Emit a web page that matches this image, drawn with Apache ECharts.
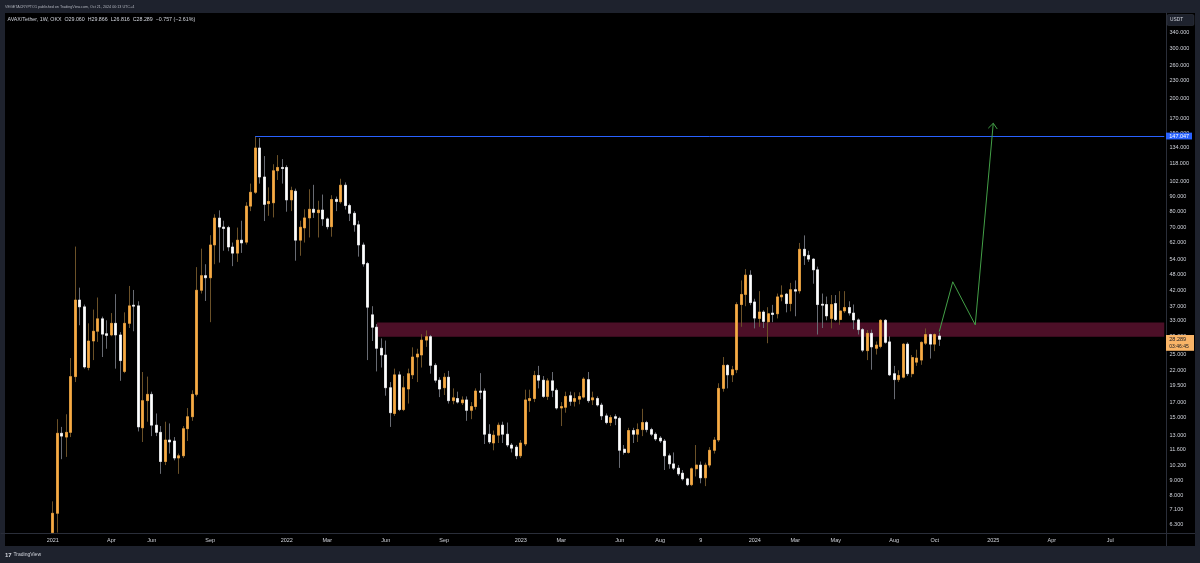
<!DOCTYPE html>
<html>
<head>
<meta charset="utf-8">
<script src="https://cdn.jsdelivr.net/npm/echarts@6/dist/echarts.min.js"></script>
<style>
html,body{margin:0;padding:0;background:#1e222d;}
#c{width:1200px;height:563px;}
</style>
</head>
<body>
<div id="c"></div>
<script>
// ---- AVAX/USDT weekly candles, week of 2021-01-04 (index 0) to week of 2024-10-14 ----
// (the first candles run below the visible price range; their hidden ends are read at the pane edge)
const open = [
5.9,6.9,13.2,12.8,13.3,20.9,38.9,36.8,22.5,27.9,
30.2,33.4,29.6,29.3,32.2,29.3,21.8,32.2,37.3,37.1,
13.8,17.2,18.1,14.1,13.3,10.5,12.5,12.4,10.8,11,
13.7,15.1,18.1,42.1,47.4,46.6,60.8,75.6,70.3,70,
59.8,56.9,63.2,62.2,83.3,93.2,133.5,105.5,85,85.6,
111,114,114,87.6,94,63.2,69.8,75.7,81.2,79,
80.7,75.1,70.5,88,86.3,98.7,83.7,78.6,71.6,60.8,
52.3,34.5,31.2,26.3,24.9,19.1,15.5,21.2,16,18.9,
21.2,24.5,24.9,28.1,28.9,22.9,20.3,19.1,20.8,17.2,
17.5,16.9,17.3,15.9,16.4,18.6,18.6,13.1,12.2,13,
14.1,13.1,12,11.8,11,12.1,17.2,17.5,21.1,20.3,
17.8,20.2,18.7,16.2,16.3,17.9,17.1,17.4,17.7,20.4,
17.3,17.5,16.6,15.2,14.4,15.1,14.9,11.6,11.3,13.5,
13.1,13.6,14.4,13.6,13.1,12.7,12.4,11,10.3,9.95,
9.55,9.12,8.7,9.9,10.2,9.2,10.2,11.5,12.5,19,
22.9,21.2,22.1,37.5,40.7,47.6,38.3,33.5,35.3,32.6,
35,34.8,39.9,40.8,37.8,42.3,41.9,58.7,55.9,54.2,
49.7,37.6,37.5,33.5,37.8,33.2,35.6,36.6,35,33.1,
30.6,25.8,29.7,26.3,26.7,33,27.7,21.4,20.4,20.8,
27.2,21.4,23.5,23.9,27.4,29.4,27.2,29.06
];
const high = [
7.6,14.8,13.9,15.4,24.3,60,43,37.5,32.2,36,
39.7,34,33,35,40.8,30,35.2,43.6,42.2,38.5,
21.7,20.9,18.5,15.5,14,14.5,14.3,12.8,11.2,14,
16.2,18.7,50.8,59,52,65.8,78,80.5,74,71,
62,70,74,86,100,147.047,144.7,125,97,117,
126,122,116,97.5,96,74,81.2,95.5,99,87,
91.5,76,91,90,104,101,85,80,74,62,
53,37,32,28.5,28,20,22.3,21.8,21,22.3,
26.5,26.2,29.5,30.4,29.3,23.3,20.8,21.5,21.9,19,
18.5,17.8,17.8,17,19,21.5,19,14.2,13.5,14.4,
14.5,14.4,12.2,12,12.5,18.8,18.8,21.9,22.8,21,
20.6,21.7,19,17,18.5,18.5,18.4,18.4,20.8,21.7,
18.5,17.8,16.9,15.5,15.3,15.4,15.1,12,13.8,13.8,
14.3,16.1,14.6,13.8,13.3,12.9,12.6,11.2,11.3,10.2,
9.8,9.2,10,12,10.5,10.4,11.8,12.8,19.8,24.5,
23.1,22.8,38.2,45.6,50,49.5,39.3,41.8,35.8,36.7,
37.4,41,43.8,41.2,44.7,45.6,61.8,65.7,58,54.6,
51,41,40,40.5,40.5,41.8,41.8,38.5,37.5,33.5,
31,30.5,30.6,27.8,33.3,33.3,29,22.8,22,27.4,
27.6,24.9,26,27.8,30.9,29.6,29.7,29.866
];
const low = [
5.9,5.9,10.7,10.9,12.8,20,31.7,22.3,22,23.9,
27.7,24.5,26.2,29,22.3,20.2,21.5,31,30.2,13.4,
12.3,14.5,12.9,12.9,9.5,10.2,11.2,10.6,9.5,10.8,
12.4,14.6,17.8,41,38.6,32.5,52,52.7,58,57.8,
51.2,53,57,61,80,92,100,73.8,77,76,
103,100,79.6,80,53.5,55.7,62,64.6,75.7,64.6,
71,69,65,80,85,81,73.8,67.7,55.3,51,
23.9,27.9,21.8,22.5,17.9,13.9,15.2,15.8,15.8,16.8,
20.5,20,22.5,26.6,21.4,19.9,17.7,18,16.8,16.7,
16.8,16.6,14.6,14.8,16,17.4,12.1,12.1,11.5,12.2,
12.2,11.8,11.3,10.7,10.8,11.9,15.7,17,19,17.6,
17.3,17.7,16,14,15.6,16.5,16.4,16.7,17.5,16.9,
16.6,16.4,14.7,14.2,14,14.1,9.97,11.1,11.2,12.2,
12.3,12.9,13.3,12.9,12.4,12.2,9.8,9.9,9.8,9.35,
9.0,8.6,8.6,9.3,8.8,8.6,10,11.2,12.3,18.5,
19,20,21.5,31.3,37,37.3,30.9,31.3,31,27.4,
32.5,33.5,38.5,35.2,35.5,34.1,41,51.7,53,44.4,
29.4,31,33,30.9,32.8,31.8,35,34.3,30.7,29.4,
25.5,23.9,22.1,25,26.3,27.3,21,17.4,20,20.6,
21,20.8,22.8,23,27,24.2,25.7,26.816
];
const close = [
6.9,13.2,12.9,13.3,20.9,38.9,36.8,22.6,27.9,30.2,
33.4,29.5,29.2,32.2,29.3,23.8,32.2,37.1,37,13.9,
17.2,18.1,14.1,13.3,10.5,12.5,12.3,10.8,11.0,13.7,
15.1,18.1,42.1,47.4,46.6,60.8,75.6,70.3,69.5,59.8,
56.9,63.2,61.8,83.3,93.2,133.5,105.5,84.5,86.5,111,
114,113,87.6,94.6,63.2,70.2,75.7,81.2,79.2,80.7,
75.1,70.5,87.9,86.5,98.7,83.7,78.6,71.6,60.8,52.1,
36.7,31.2,26.3,24.9,19.1,15.6,21.2,16,19.1,21.4,
24.5,25.1,28.1,28.9,22.9,20.3,18.9,20.8,17.2,17.6,
17,17.3,15.9,16.4,18.6,18.4,13.1,12.3,13,14.1,
13.1,12,11.7,11,12.2,17.3,17.5,21.1,20.3,17.8,
20.2,18.7,16.2,16.4,17.8,17.1,17.5,17.8,20.5,17.2,
17.6,16.6,15.2,14.4,15,14.9,11.5,11.3,13.5,13.1,
13.6,14.4,13.6,13.1,12.6,12.4,11,10.3,9.95,9.5,
9.12,8.7,9.9,10.2,9.2,10.2,11.5,12.5,19,22.9,
21.2,22.1,37.5,40.7,47.6,38.1,33.6,35.3,32.7,34.8,
34.6,39.9,40.5,37.8,42.3,41.8,58.7,55.7,54.2,49.7,
37.5,37.3,34.2,37.5,33.2,35.6,36.6,35,33.1,30.6,
25.9,29.7,26.6,27,33,27.6,21.2,20.4,21.1,27.2,
21.4,24.4,24.3,27.6,29.4,27.2,29.4,28.289
];

// weeks shown before the first candle and after the last one
const padBefore = 11;
const padAfter = 50;

// time-axis labels (week start date -> text)
const xTickLabels = [
['2021-01-04','2021'],['2021-04-05','Apr'],['2021-06-07','Jun'],['2021-09-06','Sep'],
['2022-01-03','2022'],['2022-03-07','Mar'],['2022-06-06','Jun'],['2022-09-05','Sep'],
['2023-01-02','2023'],['2023-03-06','Mar'],['2023-06-05','Jun'],['2023-08-07','Aug'],
['2023-10-09','9'],['2024-01-01','2024'],['2024-03-04','Mar'],['2024-05-06','May'],
['2024-08-05','Aug'],['2024-10-07','Oct'],['2025-01-06','2025'],['2025-04-07','Apr'],
['2025-07-07','Jul']
];
// price-axis labels
const yTickValues = [6.3,7.1,8,9,10.2,11.6,13,15,17,19.5,22,25,29,33,37,42,48,54,62,70,80,90,102,118,134,150,170,200,230,260,300,340];

// annotations
const zoneTop = 32.4, zoneBottom = 28.9, zoneStartWeek = 72;
const athWeek = 45, athLevel = 147.047;
const projection = [[197,30.1],[200,45.1],[205,31.8],[209,163.1]];
const lastPrice = 28.289, countdown = '03:46:45';

// ---- build ----
const WEEK = 7*24*3600*1000;
const startMs = Date.UTC(2021,0,4) - padBefore*WEEK;
const categories = [];
for (let n = 0; n < padBefore + open.length + padAfter; n++) {
  categories.push(new Date(startMs + n*WEEK).toISOString().slice(0,10));
}
const cat = i => categories[i + padBefore];
const tickMap = {};
xTickLabels.forEach(([d,t]) => { tickMap[d] = t; });

const blank = Array.from({length: padBefore}, () => ['-','-','-','-']);
const fullCandles = blank.concat(open.map((o,i) => [o, close[i], low[i], high[i]]));
const bodyCandles = blank.concat(open.map((o,i) => [o, close[i], Math.min(o,close[i]), Math.max(o,close[i])]));

const UP = '#f9ab43', DOWN = '#ffffff', UPW = '#6b5128', DOWNW = '#686b73';
const FONT = 'Liberation Sans';

const chart = echarts.init(document.getElementById('c'), null, {renderer:'canvas'});
const option = {
  backgroundColor: 'transparent',
  animation: false,
  textStyle: {fontFamily: FONT},
  grid: {left: 1, top: 13, width: 1165.5, height: 520, containLabel: false, outerBoundsMode: 'none'},
  xAxis: {
    type: 'category', data: categories, boundaryGap: true,
    axisLine: {show: true, lineStyle: {color: '#2a2e39', width: 1}},
    axisTick: {show: false}, splitLine: {show: false},
    axisLabel: {
      interval: (idx, val) => tickMap[val] !== undefined,
      formatter: v => tickMap[v] || '',
      color: '#d1d4dc', fontSize: 5.5, margin: 4, fontFamily: FONT
    }
  },
  yAxis: {
    type: 'log', logBase: 10, min: 5.88, max: 398.9, position: 'right',
    axisLine: {show: true, lineStyle: {color: '#2a2e39', width: 1}},
    axisTick: {show: false}, splitLine: {show: false},
    axisLabel: {
      customValues: yTickValues,
      formatter: v => Number(v).toFixed(3),
      color: '#d1d4dc', fontSize: 5.5, margin: 3, fontFamily: FONT
    }
  },
  series: [
    {
      name: 'zone', type: 'line', data: [], z: 1, silent: true,
      markArea: {
        silent: true,
        itemStyle: {color: '#4c0f27', opacity: 1},
        data: [[{xAxis: cat(zoneStartWeek), yAxis: zoneTop}, {xAxis: categories[categories.length-1], yAxis: zoneBottom}]]
      },
      markLine: {
        silent: true, symbol: ['none','none'],
        label: {show: false},
        lineStyle: {color: '#2962ff', width: 1, type: 'solid'},
        data: [[{coord: [cat(athWeek), athLevel]}, {coord: [categories[categories.length-1], athLevel]}]]
      }
    },
    {
      name: 'wicks', type: 'candlestick', data: fullCandles, z: 2, barWidth: 2.8, silent: true, clip: true,
      itemStyle: {color: UPW, color0: DOWNW, borderColor: UPW, borderColor0: DOWNW, borderWidth: 1}
    },
    {
      name: 'bodies', type: 'candlestick', data: bodyCandles, z: 3, barWidth: 2.8, silent: true, clip: true,
      itemStyle: {color: UP, color0: DOWN, borderColor: UP, borderColor0: DOWN, borderWidth: 0.6}
    },
    {
      name: 'projection', type: 'line', z: 5, silent: true, symbol: 'none',
      data: projection.map(([w,v]) => [cat(w), v]),
      lineStyle: {color: '#43a047', width: 1}
    }
  ]
};
chart.setOption(option);

// overlays positioned through the chart's own scales
const yPix = v => chart.convertToPixel({yAxisIndex: 0}, v);
const ptPix = (w,v) => chart.convertToPixel({seriesIndex: 3}, [w + padBefore, v]);
const athY = yPix(athLevel);
const lastY = yPix(lastPrice);
const p2 = ptPix(projection[2][0], projection[2][1]);
const p3 = ptPix(projection[3][0], projection[3][1]);
let dx = p3[0]-p2[0], dy = p3[1]-p2[1];
const L = Math.hypot(dx,dy); dx/=L; dy/=L;
const bx = -dx, by = -dy, a = 0.7, arm = 7;
const arm1 = [p3[0] + arm*(bx*Math.cos(a) - by*Math.sin(a)), p3[1] + arm*(bx*Math.sin(a) + by*Math.cos(a))];
const arm2 = [p3[0] + arm*(bx*Math.cos(-a) - by*Math.sin(-a)), p3[1] + arm*(bx*Math.sin(-a) + by*Math.cos(-a))];

chart.setOption({
  graphic: [
    {type:'rect', z:-10, silent:true, shape:{x:5,y:13,width:1190,height:533}, style:{fill:'#000000'}},
    {type:'line', z:1, silent:true, shape:{x1:5,y1:533.5,x2:1195,y2:533.5}, style:{stroke:'#2a2e39',lineWidth:1}},
    {type:'line', z:1, silent:true, shape:{x1:1166.5,y1:13,x2:1166.5,y2:546}, style:{stroke:'#2a2e39',lineWidth:1}},
    {type:'text', z:100, silent:true, style:{text:'VEGETACRYPTO1 published on TradingView.com, Oct 21, 2024 00:13 UTC+4', x:5, y:6.8, fill:'#b2b5be', fontSize:3.7, fontFamily:FONT, verticalAlign:'middle'}},
    {type:'text', z:100, silent:true, style:{text:'AVAX/Tether, 1W, OKX  O29.060  H29.866  L26.816  C28.289  \u22120.757 (\u22122.61%)', x:7.5, y:19.5, fill:'#d1d4dc', fontSize:5.3, fontFamily:FONT, verticalAlign:'middle'}},
    {type:'rect', z:100, silent:true, shape:{x:1167,y:14.5,width:27,height:11,r:1.5}, style:{fill:'#1e222d', stroke:'#363a45', lineWidth:0.5}},
    {type:'text', z:101, silent:true, style:{text:'USDT', x:1170, y:20, fill:'#d1d4dc', fontSize:4.8, fontFamily:FONT, verticalAlign:'middle'}},
    {type:'rect', z:100, silent:true, shape:{x:1166,y:athY-3.4,width:26,height:6.8}, style:{fill:'#2962ff'}},
    {type:'text', z:101, silent:true, style:{text:athLevel.toFixed(3), x:1169.3, y:athY, fill:'#ffffff', fontSize:5.5, fontFamily:FONT, verticalAlign:'middle'}},
    {type:'rect', z:100, silent:true, shape:{x:1166,y:lastY-4.3,width:28,height:15.8}, style:{fill:'#f9b467'}},
    {type:'text', z:101, silent:true, style:{text:lastPrice.toFixed(3), x:1169.3, y:lastY, fill:'#131722', fontSize:5.5, fontFamily:FONT, verticalAlign:'middle'}},
    {type:'text', z:101, silent:true, style:{text:countdown, x:1169.3, y:lastY+7.3, fill:'#131722', fontSize:5, fontFamily:FONT, verticalAlign:'middle'}},
    {type:'polyline', z:6, silent:true, shape:{points:[arm1, p3, arm2]}, style:{stroke:'#43a047', lineWidth:1, fill:null}},
    {type:'text', z:100, silent:true, style:{text:'17', x:5, y:555, fill:'#d1d4dc', fontSize:6, fontWeight:'bold', fontFamily:FONT, verticalAlign:'middle'}},
    {type:'text', z:100, silent:true, style:{text:'TradingView', x:13.5, y:555, fill:'#d1d4dc', fontSize:5, fontFamily:FONT, verticalAlign:'middle'}}
  ]
});
</script>
</body>
</html>
